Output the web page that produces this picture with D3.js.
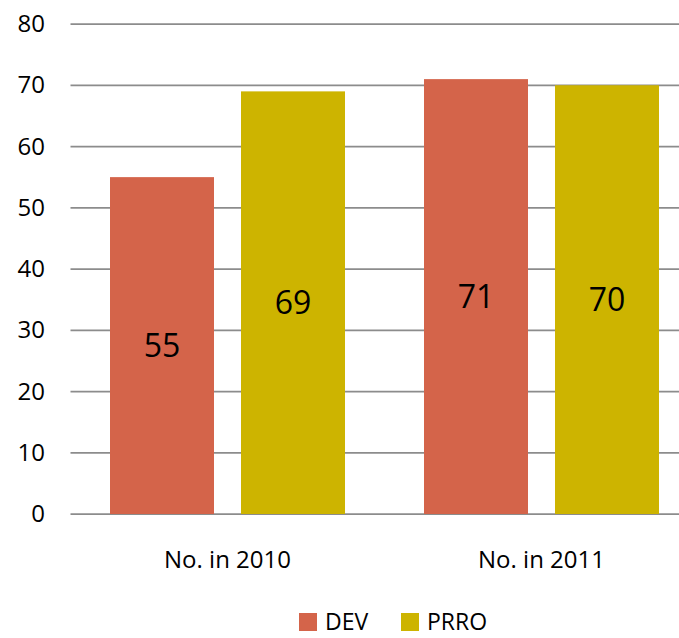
<!DOCTYPE html>
<html>
<head>
<meta charset="utf-8">
<script src="https://cdn.jsdelivr.net/npm/d3@7"></script>
<style>
  body { margin: 0; background: #fff; }
  svg { display: block; font-family: "Open Sans", "Noto Sans", sans-serif; }
</style>
</head>
<body>
<div class="chart"></div>
<script>
var categories = ['No. in 2010', 'No. in 2011'];
var seriesNames = ['DEV', 'PRRO'];
var devValues = [55, 71];
var prroValues = [69, 70];
var yTicks = [0, 10, 20, 30, 40, 50, 60, 70, 80];

var colors = { DEV: '#d4644a', PRRO: '#cdb400' };

var size = { width: 679, height: 638 };
var plot = { left: 70.5, right: 698.5, top: 24, bottom: 514 };

var svg = d3.select('.chart')
            .append('svg')
            .attr('width', size.width)
            .attr('height', size.height);

var x0 = d3.scaleBand()
           .domain(categories)
           .range([plot.left, plot.right])
           .paddingInner(0)
           .paddingOuter(0);

// two bars of 104px with a 27px gap, centred in each 314px band
var x1 = d3.scaleBand()
           .domain(seriesNames)
           .range([39.5, x0.bandwidth() - 39.5])
           .paddingInner(27 / 131);

var y = d3.scaleLinear()
          .domain([0, 80])
          .range([plot.bottom, plot.top]);

// gridlines
svg.append('g')
   .selectAll('line')
   .data(yTicks)
   .enter()
   .append('line')
   .attr('x1', plot.left)
   .attr('x2', size.width)
   .attr('y1', function(d){ return y(d); })
   .attr('y2', function(d){ return y(d); })
   .attr('stroke', '#8c8c8c')
   .attr('stroke-width', 1.75);

// y tick labels
var yAxis = d3.axisLeft(y).tickValues(yTicks).tickSize(0).tickPadding(0);
var yg = svg.append('g')
            .attr('transform', 'translate(45,0)')
            .call(yAxis);
yg.select('.domain').remove();
yg.selectAll('text')
  .attr('font-size', 24)
  .attr('fill', '#000')
  .attr('font-family', '"Open Sans", sans-serif');

var rows = categories.map(function(c, i){
  return { cat: c, values: [
    { key: 'DEV', value: devValues[i] },
    { key: 'PRRO', value: prroValues[i] }
  ]};
});

var groups = svg.selectAll('.group')
                .data(rows)
                .enter()
                .append('g')
                .attr('class', 'group')
                .attr('transform', function(d){ return 'translate(' + x0(d.cat) + ',0)'; });

groups.selectAll('rect')
      .data(function(d){ return d.values; })
      .enter()
      .append('rect')
      .attr('x', function(d){ return x1(d.key); })
      .attr('width', x1.bandwidth())
      .attr('y', function(d){ return y(d.value); })
      .attr('height', function(d){ return y(0) - y(d.value); })
      .attr('fill', function(d){ return colors[d.key]; });

groups.selectAll('.val')
      .data(function(d){ return d.values; })
      .enter()
      .append('text')
      .attr('class', 'val')
      .attr('x', function(d){ return x1(d.key) + x1.bandwidth() / 2; })
      .attr('y', function(d){ return (y(d.value) + y(0)) / 2; })
      .attr('dy', '0.36em')
      .attr('text-anchor', 'middle')
      .attr('font-size', 32)
      .text(function(d){ return d.value; });

// category labels
var xAxis = d3.axisBottom(x0).tickSize(0).tickPadding(0);
var xg = svg.append('g')
            .attr('transform', 'translate(0,568)')
            .call(xAxis);
xg.select('.domain').remove();
xg.selectAll('text')
  .attr('y', 0)
  .attr('dy', 0)
  .attr('font-size', 24)
  .attr('fill', '#000')
  .attr('font-family', '"Open Sans", sans-serif');

// legend
var legendX = [299, 401];
var legend = svg.selectAll('.legend')
                .data(seriesNames)
                .enter()
                .append('g')
                .attr('class', 'legend')
                .attr('transform', function(d, i){ return 'translate(' + legendX[i] + ',613)'; });

legend.append('rect')
      .attr('width', 18)
      .attr('height', 18)
      .attr('fill', function(d){ return colors[d]; });

legend.append('text')
      .attr('x', 26)
      .attr('y', 17)
      .attr('font-size', 23)
      .text(function(d){ return d; });
</script>
</body>
</html>
